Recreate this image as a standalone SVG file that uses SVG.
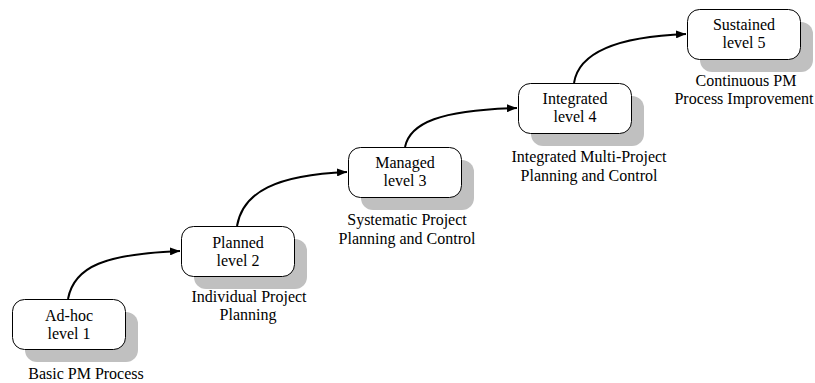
<svg xmlns="http://www.w3.org/2000/svg" width="815" height="383" viewBox="0 0 815 383">
<style>
.shadow{fill:#c0c0c0;stroke:none}
.box{fill:#fff;stroke:#000;stroke-width:1}
.lbl{font-family:'Liberation Serif','DejaVu Serif',serif;font-size:16px;fill:#000;text-anchor:middle}
.conn{fill:none;stroke:#000;stroke-width:2}
</style>
<defs>
<marker id="arr" markerWidth="10" markerHeight="8" refX="10" refY="4" orient="auto" markerUnits="userSpaceOnUse">
<path d="M0,0 L10,4 L0,8 Z" fill="#000"/>
</marker>
</defs>
<rect width="815" height="383" fill="#fff"/>
<g id="connectors">
<path class="conn" d="M68,299 C74,266 106,254 180,251" marker-end="url(#arr)"/>
<path class="conn" d="M237,226 C243,192 276,175 347,172" marker-end="url(#arr)"/>
<path class="conn" d="M405,147 C410,123 440,110 517,108" marker-end="url(#arr)"/>
<path class="conn" d="M574,83 C578,57 608,37 686,34" marker-end="url(#arr)"/>
</g>
<g id="node1">
<rect class="shadow" x="25" y="312" width="113" height="50" rx="12"/>
<rect class="box" x="12.5" y="299.5" width="113" height="50" rx="12"/>
<text class="lbl" x="69" y="321">Ad-hoc</text>
<text class="lbl" x="69" y="339">level 1</text>
<text class="lbl" x="86" y="379">Basic PM Process</text>
</g>
<g id="node2">
<rect class="shadow" x="194" y="239" width="113" height="50" rx="12"/>
<rect class="box" x="181.5" y="226.5" width="113" height="50" rx="12"/>
<text class="lbl" x="238" y="248">Planned</text>
<text class="lbl" x="238" y="266">level 2</text>
<text class="lbl" x="249" y="302">Individual Project</text>
<text class="lbl" x="248" y="320">Planning</text>
</g>
<g id="node3">
<rect class="shadow" x="361" y="160" width="113" height="50" rx="12"/>
<rect class="box" x="348.5" y="147.5" width="113" height="50" rx="12"/>
<text class="lbl" x="405" y="168">Managed</text>
<text class="lbl" x="405" y="186">level 3</text>
<text class="lbl" x="407" y="225">Systematic Project</text>
<text class="lbl" x="407" y="244">Planning and Control</text>
</g>
<g id="node4">
<rect class="shadow" x="531" y="96" width="113" height="50" rx="12"/>
<rect class="box" x="518.5" y="83.5" width="113" height="50" rx="12"/>
<text class="lbl" x="575" y="104">Integrated</text>
<text class="lbl" x="575" y="122">level 4</text>
<text class="lbl" x="589" y="162">Integrated Multi-Project</text>
<text class="lbl" x="589" y="181">Planning and Control</text>
</g>
<g id="node5">
<rect class="shadow" x="700" y="22" width="113" height="50" rx="12"/>
<rect class="box" x="687.5" y="9.5" width="113" height="50" rx="12"/>
<text class="lbl" x="744" y="30">Sustained</text>
<text class="lbl" x="744" y="48">level 5</text>
<text class="lbl" x="746" y="86">Continuous PM</text>
<text class="lbl" x="744" y="104">Process Improvement</text>
</g>
</svg>
